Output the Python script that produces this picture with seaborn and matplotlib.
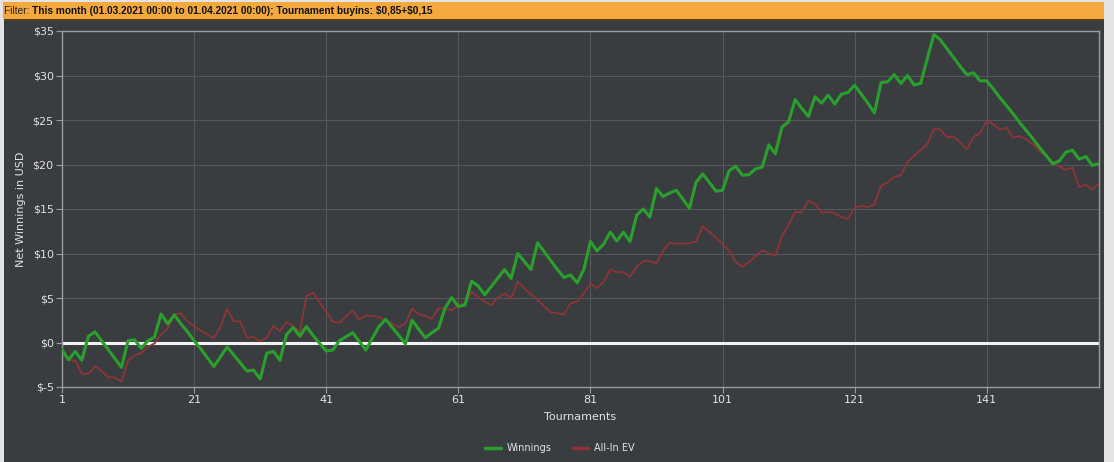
import numpy as np
import pandas as pd
import seaborn as sns
import matplotlib.pyplot as plt
from matplotlib.patches import Rectangle
from matplotlib.lines import Line2D
from matplotlib.ticker import FuncFormatter

# === Data ===
tournaments = list(range(1, 159))

winnings = [
    -0.8, -1.95, -1.0, -2.0, 0.7, 1.2, 0.2, -0.8, -1.8, -2.8,
    0.2, 0.3, -0.65, 0.2, 0.6, 3.2, 2.1, 3.1, 2.1, 1.2,
    0.2, -0.7, -1.7, -2.7, -1.6, -0.5, -1.4, -2.3, -3.2, -3.1,
    -4.1, -1.2, -1.0, -2.0, 0.9, 1.7, 0.7, 1.8, 0.8, -0.1,
    -0.95, -0.85, 0.2, 0.65, 1.1, 0.15, -0.85, 0.5, 1.8, 2.6,
    1.7, 0.8, -0.15, 2.5, 1.5, 0.55, 1.1, 1.6, 3.9, 5.05,
    4.05, 4.2, 6.9, 6.35, 5.35, 6.3, 7.25, 8.2, 7.2, 10.0,
    9.1, 8.2, 11.2, 10.2, 9.2, 8.2, 7.3, 7.6, 6.7, 8.2,
    11.35, 10.3, 11.05, 12.4, 11.4, 12.4, 11.35, 14.3, 15.0, 14.1,
    17.3, 16.4, 16.8, 17.1, 16.1, 15.1, 18.0, 18.95, 18.0, 17.0,
    17.1, 19.3, 19.8, 18.8, 18.85, 19.5, 19.7, 22.2, 21.2, 24.2,
    24.8, 27.3, 26.3, 25.4, 27.6, 26.9, 27.8, 26.8, 27.9, 28.1,
    28.9, 27.9, 26.9, 25.8, 29.2, 29.3, 30.1, 29.1, 30.0, 28.95,
    29.1, 31.9, 34.6, 34.0, 33.0, 32.0, 31.0, 30.1, 30.3, 29.4,
    29.4, 28.5, 27.5, 26.6, 25.7, 24.7, 23.8, 22.9, 21.9, 21.0,
    20.1, 20.4, 21.4, 21.6, 20.6, 20.9, 19.9, 20.1,
]

allin_ev = [
    -0.7, -1.95, -2.05, -3.5, -3.55, -2.65, -3.2, -3.9, -3.9, -4.4,
    -2.0, -1.45, -1.2, -0.5, -0.1, 0.9, 1.6, 3.1, 3.3, 2.4,
    1.8, 1.35, 0.9, 0.5, 1.75, 3.8, 2.4, 2.35, 0.55, 0.65,
    0.15, 0.55, 1.85, 1.3, 2.3, 1.85, 1.15, 5.2, 5.6, 4.5,
    3.45, 2.35, 2.2, 2.9, 3.6, 2.6, 3.0, 3.0, 2.85, 2.47,
    2.17, 1.7, 2.17, 3.8, 3.2, 3.0, 2.66, 3.8, 3.85, 3.6,
    4.2, 4.4, 5.7, 5.1, 4.6, 4.2, 5.05, 5.5, 4.95, 6.85,
    6.1, 5.4, 4.8, 4.05, 3.4, 3.3, 3.15, 4.4, 4.6, 5.5,
    6.65, 6.1, 6.85, 8.2, 7.9, 7.9, 7.4, 8.5, 9.15, 9.15,
    8.9, 10.3, 11.2, 11.1, 11.1, 11.15, 11.35, 13.1, 12.4, 11.8,
    11.05, 10.3, 9.1, 8.5, 9.05, 9.7, 10.35, 10.05, 9.75, 11.95,
    13.2, 14.7, 14.6, 15.95, 15.6, 14.6, 14.7, 14.5, 14.1, 13.9,
    15.2, 15.35, 15.2, 15.5, 17.6, 18.0, 18.6, 18.8, 20.3, 21.0,
    21.6, 22.3, 24.0, 23.95, 23.05, 23.15, 22.45, 21.7, 23.1, 23.5,
    24.95, 24.5, 23.9, 24.15, 23.0, 23.2, 22.8, 22.3, 21.5, 21.0,
    20.15, 19.8, 19.4, 19.65, 17.45, 17.75, 17.2, 17.9,
]

x_ticks = [1, 21, 41, 61, 81, 101, 121, 141]
y_ticks = [-5, 0, 5, 10, 15, 20, 25, 30, 35]
filter_label = "Filter: "
filter_text = "This month (01.03.2021 00:00 to 01.04.2021 00:00); Tournament buyins: $0,85+$0,15"

# === Colours
BG = "#3a3d40"
EDGE = "#e4e4e4"
BANNER = "#f3a93e"
GRID = "#54575b"
SPINE = "#9a9c9e"
TEXT = "#e2e2e2"
GREEN = "#2aa02c"
RED = "#8e3436"

df = pd.DataFrame({"Tournament": tournaments, "Winnings": winnings, "All-In EV": allin_ev})

sns.set_theme(style="dark")
plt.rcParams["font.family"] = ["DejaVu Sans"]

W, H = 1114, 462
fig = plt.figure(figsize=(W / 100, H / 100), dpi=100, facecolor=EDGE)

# dark panel + orange filter banner (behind the axes)
fig.patches.append(Rectangle((4 / W, 0), 1100 / W, 443 / H, transform=fig.transFigure,
                             facecolor=BG, edgecolor="none", zorder=-10))
fig.patches.append(Rectangle((3 / W, 1 - 19 / H), 1101 / W, 17 / H, transform=fig.transFigure,
                             facecolor=BANNER, edgecolor="none", zorder=-10))
fig.patches.append(Rectangle((4 / W, 1 - 20.5 / H), 1100 / W, 1.5 / H, transform=fig.transFigure,
                             facecolor="#5a4020", edgecolor="none", zorder=-10))
t = fig.text(4 / W, 1 - 10.5 / H, filter_label, fontsize=7.3, color="#222222",
             va="center", ha="left", family=["Liberation Sans"], parse_math=False)
fig.canvas.draw()
bb = t.get_window_extent()
fig.text(bb.x1 / W, 1 - 10.5 / H, filter_text, fontsize=7.3, color="#111111", fontweight="bold",
         va="center", ha="left", family=["Liberation Sans"], parse_math=False)

ax = fig.add_axes([62 / W, 1 - 387 / H, (1099 - 62) / W, (387 - 31) / H], zorder=1)
ax.set_facecolor(BG)

sns.lineplot(data=df, x="Tournament", y="All-In EV", ax=ax, color=RED, linewidth=1.3, zorder=3)
sns.lineplot(data=df, x="Tournament", y="Winnings", ax=ax, color=GREEN, linewidth=2.2, zorder=4)
ax.axhline(0, color="#f2f2f2", linewidth=2.2, zorder=2)

ax.set_xlim(1, 158)
ax.set_ylim(-5, 35)
ax.set_xticks(x_ticks)
ax.set_yticks(y_ticks)
ax.yaxis.set_major_formatter(FuncFormatter(lambda v, p: f"\\${int(v)}"))
ax.grid(True, color=GRID, linewidth=0.8)
for s in ax.spines.values():
    s.set_visible(True)
    s.set_color(SPINE)
    s.set_linewidth(1.0)
ax.tick_params(axis="both", colors=SPINE, labelcolor=TEXT, labelsize=8, length=4,
               width=0.8, direction="out", pad=2, bottom=True, left=True)

ax.set_xlabel("Tournaments", color=TEXT, fontsize=8, labelpad=5)
ax.set_ylabel("Net Winnings in USD", color=TEXT, fontsize=8, labelpad=5)

handles = [Line2D([], [], color=GREEN, linewidth=2.5),
           Line2D([], [], color=RED, linewidth=2.5)]
fig.legend(handles, ["Winnings", "All-In EV"], loc="center", ncol=2,
           bbox_to_anchor=(560 / W, 1 - 448 / H), frameon=False, fontsize=7,
           labelcolor=TEXT, handlelength=1.6, handletextpad=0.6, columnspacing=2.2)

plt.savefig("out.png", dpi=100, facecolor=fig.get_facecolor())
